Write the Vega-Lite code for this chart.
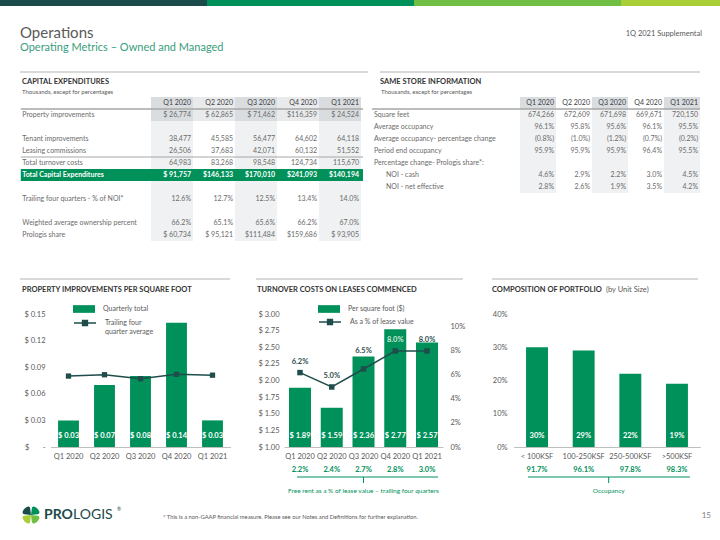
{
  "$schema": "https://vega.github.io/schema/vega-lite/v6.json",
  "width": 720,
  "height": 540,
  "autosize": {"type": "fit", "contains": "padding"},
  "padding": 0,
  "background": "#FFFFFF",
  "config": {"view": {"stroke": null}, "font": "Lato"},
  "datasets": {
    "capex": [
      {"row": "_hdr", "Q1 2020": "Q1 2020", "Q2 2020": "Q2 2020", "Q3 2020": "Q3 2020", "Q4 2020": "Q4 2020", "Q1 2021": "Q1 2021"},
      {"row": "Property improvements", "Q1 2020": "$ 26,774", "Q2 2020": "$ 62,865", "Q3 2020": "$ 71,462", "Q4 2020": "$116,359", "Q1 2021": "$ 24,524"},
      {"row": "_b1", "Q1 2020": "", "Q2 2020": "", "Q3 2020": "", "Q4 2020": "", "Q1 2021": ""},
      {"row": "Tenant improvements", "Q1 2020": "38,477", "Q2 2020": "45,585", "Q3 2020": "56,477", "Q4 2020": "64,602", "Q1 2021": "64,118"},
      {"row": "Leasing commissions", "Q1 2020": "26,506", "Q2 2020": "37,683", "Q3 2020": "42,071", "Q4 2020": "60,132", "Q1 2021": "51,552"},
      {"row": "Total turnover costs", "Q1 2020": "64,983", "Q2 2020": "83,268", "Q3 2020": "98,548", "Q4 2020": "124,734", "Q1 2021": "115,670"},
      {"row": "Total Capital Expenditures", "Q1 2020": "$ 91,757", "Q2 2020": "$146,133", "Q3 2020": "$170,010", "Q4 2020": "$241,093", "Q1 2021": "$140,194"},
      {"row": "_b2", "Q1 2020": "", "Q2 2020": "", "Q3 2020": "", "Q4 2020": "", "Q1 2021": ""},
      {"row": "Trailing four quarters - % of NOI*", "Q1 2020": "12.6%", "Q2 2020": "12.7%", "Q3 2020": "12.5%", "Q4 2020": "13.4%", "Q1 2021": "14.0%"},
      {"row": "_b3", "Q1 2020": "", "Q2 2020": "", "Q3 2020": "", "Q4 2020": "", "Q1 2021": ""},
      {"row": "Weighted average ownership percent", "Q1 2020": "66.2%", "Q2 2020": "65.1%", "Q3 2020": "65.6%", "Q4 2020": "66.2%", "Q1 2021": "67.0%"},
      {"row": "Prologis share", "Q1 2020": "$ 60,734", "Q2 2020": "$ 95,121", "Q3 2020": "$111,484", "Q4 2020": "$159,686", "Q1 2021": "$ 93,905"}
    ],
    "sameStore": [
      {"row": "_hdr", "Q1 2020": "Q1 2020", "Q2 2020": "Q2 2020", "Q3 2020": "Q3 2020", "Q4 2020": "Q4 2020", "Q1 2021": "Q1 2021"},
      {"row": "Square feet", "Q1 2020": "674,266", "Q2 2020": "672,609", "Q3 2020": "671,698", "Q4 2020": "669,671", "Q1 2021": "720,150"},
      {"row": "Average occupancy", "Q1 2020": "96.1%", "Q2 2020": "95.8%", "Q3 2020": "95.6%", "Q4 2020": "96.1%", "Q1 2021": "95.5%"},
      {"row": "Average occupancy- percentage change", "Q1 2020": "(0.8%)", "Q2 2020": "(1.0%)", "Q3 2020": "(1.2%)", "Q4 2020": "(0.7%)", "Q1 2021": "(0.2%)"},
      {"row": "Period end occupancy", "Q1 2020": "95.9%", "Q2 2020": "95.9%", "Q3 2020": "95.9%", "Q4 2020": "96.4%", "Q1 2021": "95.5%"},
      {"row": "Percentage change- Prologis share*:", "Q1 2020": "", "Q2 2020": "", "Q3 2020": "", "Q4 2020": "", "Q1 2021": ""},
      {"row": "NOI - cash", "Q1 2020": "4.6%", "Q2 2020": "2.9%", "Q3 2020": "2.2%", "Q4 2020": "3.0%", "Q1 2021": "4.5%"},
      {"row": "NOI - net effective", "Q1 2020": "2.8%", "Q2 2020": "2.6%", "Q3 2020": "1.9%", "Q4 2020": "3.5%", "Q1 2021": "4.2%"}
    ],
    "propImprovements": [
      {"q": "Q1 2020", "total": 0.03, "avg": 0.080},
      {"q": "Q2 2020", "total": 0.07, "avg": 0.0815},
      {"q": "Q3 2020", "total": 0.08, "avg": 0.077},
      {"q": "Q4 2020", "total": 0.14, "avg": 0.082},
      {"q": "Q1 2021", "total": 0.03, "avg": 0.081}
    ],
    "turnover": [
      {"q": "Q1 2020", "psf": 1.89, "pct": 0.062, "freeRent": 0.022},
      {"q": "Q2 2020", "psf": 1.59, "pct": 0.050, "freeRent": 0.024},
      {"q": "Q3 2020", "psf": 2.36, "pct": 0.065, "freeRent": 0.027},
      {"q": "Q4 2020", "psf": 2.77, "pct": 0.080, "freeRent": 0.028},
      {"q": "Q1 2021", "psf": 2.57, "pct": 0.080, "freeRent": 0.030}
    ],
    "portfolio": [
      {"size": "< 100KSF", "share": 0.30, "occupancy": 0.917},
      {"size": "100-250KSF", "share": 0.29, "occupancy": 0.961},
      {"size": "250-500KSF", "share": 0.22, "occupancy": 0.978},
      {"size": ">500KSF", "share": 0.19, "occupancy": 0.983}
    ],
    "logo": [
      {"part": "a", "w": 1},
      {"part": "b", "w": 1},
      {"part": "c", "w": 1},
      {"part": "d", "w": 1}
    ]
  },
  "layer": [
    {
      "data": {"values": [{}]},
      "layer": [
        {"mark": {"type": "rect", "fill": "#1B4A4A"}, "encoding": {"x": {"datum": 0, "type": "quantitative", "scale": {"domain": [0, 720], "range": [0, 720], "nice": false, "zero": false}, "axis": null}, "x2": {"datum": 207}, "y": {"datum": 0, "type": "quantitative", "scale": {"domain": [0, 540], "range": [0, 540], "nice": false, "zero": false}, "axis": null}, "y2": {"datum": 6}}},
        {"mark": {"type": "rect", "fill": "#00915A"}, "encoding": {"x": {"datum": 207, "type": "quantitative", "scale": {"domain": [0, 720], "range": [0, 720], "nice": false, "zero": false}, "axis": null}, "x2": {"datum": 414}, "y": {"datum": 0, "type": "quantitative", "scale": {"domain": [0, 540], "range": [0, 540], "nice": false, "zero": false}, "axis": null}, "y2": {"datum": 6}}},
        {"mark": {"type": "rect", "fill": "#70BF44"}, "encoding": {"x": {"datum": 414, "type": "quantitative", "scale": {"domain": [0, 720], "range": [0, 720], "nice": false, "zero": false}, "axis": null}, "x2": {"datum": 621}, "y": {"datum": 0, "type": "quantitative", "scale": {"domain": [0, 540], "range": [0, 540], "nice": false, "zero": false}, "axis": null}, "y2": {"datum": 6}}},
        {"mark": {"type": "rect", "fill": "#A8CE38"}, "encoding": {"x": {"datum": 621, "type": "quantitative", "scale": {"domain": [0, 720], "range": [0, 720], "nice": false, "zero": false}, "axis": null}, "x2": {"datum": 720}, "y": {"datum": 0, "type": "quantitative", "scale": {"domain": [0, 540], "range": [0, 540], "nice": false, "zero": false}, "axis": null}, "y2": {"datum": 6}}},
        {"mark": {"type": "text", "text": "Operations", "align": "left", "baseline": "middle", "fontSize": 15, "fill": "#595959"}, "encoding": {"x": {"datum": 20, "type": "quantitative", "scale": {"domain": [0, 720], "range": [0, 720], "nice": false, "zero": false}, "axis": null}, "y": {"datum": 33, "type": "quantitative", "scale": {"domain": [0, 540], "range": [0, 540], "nice": false, "zero": false}, "axis": null}}},
        {"mark": {"type": "text", "text": "Operating Metrics – Owned and Managed", "align": "left", "baseline": "middle", "fontSize": 11, "fill": "#3A9D7D"}, "encoding": {"x": {"datum": 20, "type": "quantitative", "scale": {"domain": [0, 720], "range": [0, 720], "nice": false, "zero": false}, "axis": null}, "y": {"datum": 48, "type": "quantitative", "scale": {"domain": [0, 540], "range": [0, 540], "nice": false, "zero": false}, "axis": null}}},
        {"mark": {"type": "text", "text": "1Q 2021 Supplemental", "align": "right", "baseline": "middle", "fontSize": 7.5, "fill": "#595959"}, "encoding": {"x": {"datum": 702, "type": "quantitative", "scale": {"domain": [0, 720], "range": [0, 720], "nice": false, "zero": false}, "axis": null}, "y": {"datum": 34, "type": "quantitative", "scale": {"domain": [0, 540], "range": [0, 540], "nice": false, "zero": false}, "axis": null}}},
        {"mark": {"type": "rule", "stroke": "#D9D9D9", "strokeWidth": 2}, "encoding": {"x": {"datum": 20, "type": "quantitative", "scale": {"domain": [0, 720], "range": [0, 720], "nice": false, "zero": false}, "axis": null}, "x2": {"datum": 368}, "y": {"datum": 72, "type": "quantitative", "scale": {"domain": [0, 540], "range": [0, 540], "nice": false, "zero": false}, "axis": null}}},
        {"mark": {"type": "rule", "stroke": "#D9D9D9", "strokeWidth": 2}, "encoding": {"x": {"datum": 380, "type": "quantitative", "scale": {"domain": [0, 720], "range": [0, 720], "nice": false, "zero": false}, "axis": null}, "x2": {"datum": 700}, "y": {"datum": 72, "type": "quantitative", "scale": {"domain": [0, 540], "range": [0, 540], "nice": false, "zero": false}, "axis": null}}},
        {"mark": {"type": "rule", "stroke": "#D9D9D9", "strokeWidth": 2}, "encoding": {"x": {"datum": 20, "type": "quantitative", "scale": {"domain": [0, 720], "range": [0, 720], "nice": false, "zero": false}, "axis": null}, "x2": {"datum": 230}, "y": {"datum": 279, "type": "quantitative", "scale": {"domain": [0, 540], "range": [0, 540], "nice": false, "zero": false}, "axis": null}}},
        {"mark": {"type": "rule", "stroke": "#D9D9D9", "strokeWidth": 2}, "encoding": {"x": {"datum": 256, "type": "quantitative", "scale": {"domain": [0, 720], "range": [0, 720], "nice": false, "zero": false}, "axis": null}, "x2": {"datum": 463}, "y": {"datum": 279, "type": "quantitative", "scale": {"domain": [0, 540], "range": [0, 540], "nice": false, "zero": false}, "axis": null}}},
        {"mark": {"type": "rule", "stroke": "#D9D9D9", "strokeWidth": 2}, "encoding": {"x": {"datum": 492, "type": "quantitative", "scale": {"domain": [0, 720], "range": [0, 720], "nice": false, "zero": false}, "axis": null}, "x2": {"datum": 698}, "y": {"datum": 279, "type": "quantitative", "scale": {"domain": [0, 540], "range": [0, 540], "nice": false, "zero": false}, "axis": null}}},
        {"mark": {"type": "text", "text": "CAPITAL EXPENDITURES", "align": "left", "baseline": "middle", "fontSize": 7.5, "fontWeight": "bold", "fill": "#333333"}, "encoding": {"x": {"datum": 22, "type": "quantitative", "scale": {"domain": [0, 720], "range": [0, 720], "nice": false, "zero": false}, "axis": null}, "y": {"datum": 82, "type": "quantitative", "scale": {"domain": [0, 540], "range": [0, 540], "nice": false, "zero": false}, "axis": null}}},
        {"mark": {"type": "text", "text": "Thousands, except for percentages", "align": "left", "baseline": "middle", "fontSize": 6, "fill": "#595959"}, "encoding": {"x": {"datum": 22, "type": "quantitative", "scale": {"domain": [0, 720], "range": [0, 720], "nice": false, "zero": false}, "axis": null}, "y": {"datum": 92, "type": "quantitative", "scale": {"domain": [0, 540], "range": [0, 540], "nice": false, "zero": false}, "axis": null}}},
        {"mark": {"type": "text", "text": "SAME STORE INFORMATION", "align": "left", "baseline": "middle", "fontSize": 7.5, "fontWeight": "bold", "fill": "#333333"}, "encoding": {"x": {"datum": 380, "type": "quantitative", "scale": {"domain": [0, 720], "range": [0, 720], "nice": false, "zero": false}, "axis": null}, "y": {"datum": 82, "type": "quantitative", "scale": {"domain": [0, 540], "range": [0, 540], "nice": false, "zero": false}, "axis": null}}},
        {"mark": {"type": "text", "text": "Thousands, except for percentages", "align": "left", "baseline": "middle", "fontSize": 6, "fill": "#595959"}, "encoding": {"x": {"datum": 381, "type": "quantitative", "scale": {"domain": [0, 720], "range": [0, 720], "nice": false, "zero": false}, "axis": null}, "y": {"datum": 92, "type": "quantitative", "scale": {"domain": [0, 540], "range": [0, 540], "nice": false, "zero": false}, "axis": null}}},
        {"mark": {"type": "text", "text": "PROPERTY IMPROVEMENTS PER SQUARE FOOT", "align": "left", "baseline": "middle", "fontSize": 7.5, "fontWeight": "bold", "fill": "#333333"}, "encoding": {"x": {"datum": 22, "type": "quantitative", "scale": {"domain": [0, 720], "range": [0, 720], "nice": false, "zero": false}, "axis": null}, "y": {"datum": 290, "type": "quantitative", "scale": {"domain": [0, 540], "range": [0, 540], "nice": false, "zero": false}, "axis": null}}},
        {"mark": {"type": "text", "text": "TURNOVER COSTS ON LEASES COMMENCED", "align": "left", "baseline": "middle", "fontSize": 7.5, "fontWeight": "bold", "fill": "#333333"}, "encoding": {"x": {"datum": 257, "type": "quantitative", "scale": {"domain": [0, 720], "range": [0, 720], "nice": false, "zero": false}, "axis": null}, "y": {"datum": 290, "type": "quantitative", "scale": {"domain": [0, 540], "range": [0, 540], "nice": false, "zero": false}, "axis": null}}},
        {"mark": {"type": "text", "text": "COMPOSITION OF PORTFOLIO", "align": "left", "baseline": "middle", "fontSize": 7.5, "fontWeight": "bold", "fill": "#333333"}, "encoding": {"x": {"datum": 492, "type": "quantitative", "scale": {"domain": [0, 720], "range": [0, 720], "nice": false, "zero": false}, "axis": null}, "y": {"datum": 290, "type": "quantitative", "scale": {"domain": [0, 540], "range": [0, 540], "nice": false, "zero": false}, "axis": null}}},
        {"mark": {"type": "text", "text": "(by Unit Size)", "align": "left", "baseline": "middle", "fontSize": 7.5, "fill": "#595959"}, "encoding": {"x": {"datum": 606, "type": "quantitative", "scale": {"domain": [0, 720], "range": [0, 720], "nice": false, "zero": false}, "axis": null}, "y": {"datum": 290, "type": "quantitative", "scale": {"domain": [0, 540], "range": [0, 540], "nice": false, "zero": false}, "axis": null}}},
        {"mark": {"type": "text", "text": "* This is a non-GAAP financial measure. Please see our Notes and Definitions for further explanation.", "align": "left", "baseline": "middle", "fontSize": 5.8, "fill": "#595959"}, "encoding": {"x": {"datum": 163, "type": "quantitative", "scale": {"domain": [0, 720], "range": [0, 720], "nice": false, "zero": false}, "axis": null}, "y": {"datum": 517, "type": "quantitative", "scale": {"domain": [0, 540], "range": [0, 540], "nice": false, "zero": false}, "axis": null}}},
        {"mark": {"type": "text", "text": "15", "align": "right", "baseline": "middle", "fontSize": 8, "fill": "#7F7F7F"}, "encoding": {"x": {"datum": 711, "type": "quantitative", "scale": {"domain": [0, 720], "range": [0, 720], "nice": false, "zero": false}, "axis": null}, "y": {"datum": 516, "type": "quantitative", "scale": {"domain": [0, 540], "range": [0, 540], "nice": false, "zero": false}, "axis": null}}},
        {"mark": {"type": "text", "text": "PRO", "align": "left", "baseline": "middle", "fontSize": 14, "fontWeight": "bold", "fill": "#1B4A4A"}, "encoding": {"x": {"datum": 44, "type": "quantitative", "scale": {"domain": [0, 720], "range": [0, 720], "nice": false, "zero": false}, "axis": null}, "y": {"datum": 515, "type": "quantitative", "scale": {"domain": [0, 540], "range": [0, 540], "nice": false, "zero": false}, "axis": null}}},
        {"mark": {"type": "text", "text": "LOGIS", "align": "left", "baseline": "middle", "fontSize": 14, "fill": "#1B4A4A"}, "encoding": {"x": {"datum": 73, "type": "quantitative", "scale": {"domain": [0, 720], "range": [0, 720], "nice": false, "zero": false}, "axis": null}, "y": {"datum": 515, "type": "quantitative", "scale": {"domain": [0, 540], "range": [0, 540], "nice": false, "zero": false}, "axis": null}}},
        {"mark": {"type": "text", "text": "®", "align": "left", "baseline": "middle", "fontSize": 5, "fill": "#1B4A4A"}, "encoding": {"x": {"datum": 117, "type": "quantitative", "scale": {"domain": [0, 720], "range": [0, 720], "nice": false, "zero": false}, "axis": null}, "y": {"datum": 509, "type": "quantitative", "scale": {"domain": [0, 540], "range": [0, 540], "nice": false, "zero": false}, "axis": null}}},
        {"data": {"name": "logo"}, "mark": {"type": "arc", "radius": 9, "innerRadius": 0, "padAngle": 0.25, "cornerRadius": 2}, "encoding": {"theta": {"field": "w", "type": "quantitative"}, "fill": {"field": "part", "type": "nominal", "sort": null, "scale": {"domain": ["a", "b", "c", "d"], "range": ["#00915A", "#70BF44", "#A8CE38", "#1B4A4A"]}, "legend": null}, "x": {"datum": 31, "type": "quantitative", "scale": {"domain": [0, 720], "range": [0, 720], "nice": false, "zero": false}, "axis": null}, "y": {"datum": 515, "type": "quantitative", "scale": {"domain": [0, 540], "range": [0, 540], "nice": false, "zero": false}, "axis": null}}}
      ]
    },
    {
      "data": {"name": "capex"},
      "transform": [{"fold": ["Q1 2020", "Q2 2020", "Q3 2020", "Q4 2020", "Q1 2021"], "as": ["q", "v"]}],
      "encoding": {
        "x": {"field": "q", "type": "nominal", "sort": null, "scale": {"domain": ["Q1 2020", "Q2 2020", "Q3 2020", "Q4 2020", "Q1 2021"], "range": [151, 361], "paddingInner": 0, "paddingOuter": 0}, "axis": null},
        "y": {"field": "row", "type": "nominal", "sort": null, "scale": {"domain": ["_hdr", "Property improvements", "_b1", "Tenant improvements", "Leasing commissions", "Total turnover costs", "Total Capital Expenditures", "_b2", "Trailing four quarters - % of NOI*", "_b3", "Weighted average ownership percent", "Prologis share"], "range": [97, 241], "paddingInner": 0, "paddingOuter": 0}, "axis": null}
      },
      "layer": [
        {"mark": {"type": "rect"}, "encoding": {"fill": {"condition": [
          {"test": "(datum.row=='_hdr'||datum.row=='Property improvements') && indexof(['Q1 2020','Q3 2020','Q1 2021'], datum.q) >= 0", "value": "#D9DDE0"},
          {"test": "datum.row=='_hdr'||datum.row=='Property improvements'", "value": "#E8EAEC"},
          {"test": "indexof(['Q1 2020','Q3 2020','Q1 2021'], datum.q) >= 0", "value": "#EFF1F2"}
        ], "value": "#FFFFFF"}}},
        {"transform": [{"filter": "datum.row=='Total Capital Expenditures' && datum.q=='Q1 2020'"}], "mark": {"type": "rect", "fill": "#00915A", "x2Offset": 2}, "encoding": {"x": {"datum": "Q1 2020", "bandPosition": -3.1}, "x2": {"datum": "Q1 2021", "bandPosition": 1}}},
        {"transform": [{"filter": "datum.row=='_hdr' && datum.q=='Q1 2020'"}], "mark": {"type": "rule", "stroke": "#A6A6A6", "strokeWidth": 1.5, "x2Offset": 2}, "encoding": {"x": {"datum": "Q1 2020", "bandPosition": -3.1}, "x2": {"datum": "Q1 2021", "bandPosition": 1}, "y": {"field": "row", "type": "nominal", "bandPosition": 1}}},
        {"transform": [{"filter": "datum.row=='Total turnover costs' && datum.q=='Q1 2020'"}], "mark": {"type": "rule", "stroke": "#A6A6A6", "strokeWidth": 1, "x2Offset": 2}, "encoding": {"x": {"datum": "Q1 2020", "bandPosition": -3.1}, "x2": {"datum": "Q1 2021", "bandPosition": 1}, "y": {"field": "row", "type": "nominal", "bandPosition": 0}}},
        {"transform": [{"filter": "datum.row!='Total Capital Expenditures'"}], "mark": {"type": "text", "align": "right", "baseline": "middle", "dx": -2, "fontSize": 7}, "encoding": {"x": {"field": "q", "type": "nominal", "bandPosition": 1}, "text": {"field": "v", "type": "nominal"}, "fill": {"condition": {"test": "datum.row=='_hdr'", "value": "#404040"}, "value": "#6B6B6B"}}},
        {"transform": [{"filter": "datum.row=='Total Capital Expenditures'"}], "mark": {"type": "text", "align": "right", "baseline": "middle", "dx": -2, "fontSize": 7, "fontWeight": "bold", "fill": "#FFFFFF"}, "encoding": {"x": {"field": "q", "type": "nominal", "bandPosition": 1}, "text": {"field": "v", "type": "nominal"}}},
        {"transform": [{"filter": "datum.q=='Q1 2020' && indexof(datum.row, '_') != 0 && datum.row!='Total Capital Expenditures'"}], "mark": {"type": "text", "align": "left", "baseline": "middle", "dx": 1.5, "fontSize": 7, "fill": "#6B6B6B"}, "encoding": {"x": {"datum": "Q1 2020", "bandPosition": -3.1}, "text": {"field": "row", "type": "nominal"}}},
        {"transform": [{"filter": "datum.q=='Q1 2020' && datum.row=='Total Capital Expenditures'"}], "mark": {"type": "text", "align": "left", "baseline": "middle", "dx": 1.5, "fontSize": 7, "fontWeight": "bold", "fill": "#FFFFFF"}, "encoding": {"x": {"datum": "Q1 2020", "bandPosition": -3.1}, "text": {"field": "row", "type": "nominal"}}}
      ]
    },
    {
      "data": {"name": "sameStore"},
      "transform": [{"fold": ["Q1 2020", "Q2 2020", "Q3 2020", "Q4 2020", "Q1 2021"], "as": ["q", "v"]}],
      "encoding": {
        "x": {"field": "q", "type": "nominal", "sort": null, "scale": {"domain": ["Q1 2020", "Q2 2020", "Q3 2020", "Q4 2020", "Q1 2021"], "range": [520, 700], "paddingInner": 0, "paddingOuter": 0}, "axis": null},
        "y": {"field": "row", "type": "nominal", "sort": null, "scale": {"domain": ["_hdr", "Square feet", "Average occupancy", "Average occupancy- percentage change", "Period end occupancy", "Percentage change- Prologis share*:", "NOI - cash", "NOI - net effective"], "range": [97, 193], "paddingInner": 0, "paddingOuter": 0}, "axis": null}
      },
      "layer": [
        {"mark": {"type": "rect"}, "encoding": {"fill": {"condition": [
          {"test": "datum.row=='_hdr' && indexof(['Q1 2020','Q3 2020','Q1 2021'], datum.q) >= 0", "value": "#D9DDE0"},
          {"test": "indexof(['Q1 2020','Q3 2020','Q1 2021'], datum.q) >= 0", "value": "#EFF1F2"}
        ], "value": "#FFFFFF"}}},
        {"transform": [{"filter": "datum.row=='_hdr' && datum.q=='Q1 2020'"}], "mark": {"type": "rule", "stroke": "#A6A6A6", "strokeWidth": 1.5}, "encoding": {"x": {"datum": "Q1 2020", "bandPosition": -4.111}, "x2": {"datum": "Q1 2021", "bandPosition": 1}, "y": {"field": "row", "type": "nominal", "bandPosition": 1}}},
        {"mark": {"type": "text", "align": "right", "baseline": "middle", "dx": -2, "fontSize": 7}, "encoding": {"x": {"field": "q", "type": "nominal", "bandPosition": 1}, "text": {"field": "v", "type": "nominal"}, "fill": {"condition": {"test": "datum.row=='_hdr'", "value": "#404040"}, "value": "#6B6B6B"}}},
        {"transform": [{"filter": "datum.q=='Q1 2020' && indexof(datum.row, '_') != 0 && indexof(datum.row, 'NOI') != 0"}], "mark": {"type": "text", "align": "left", "baseline": "middle", "dx": 2, "fontSize": 7, "fill": "#6B6B6B"}, "encoding": {"x": {"datum": "Q1 2020", "bandPosition": -4.111}, "text": {"field": "row", "type": "nominal"}}},
        {"transform": [{"filter": "datum.q=='Q1 2020' && indexof(datum.row, 'NOI') == 0"}], "mark": {"type": "text", "align": "left", "baseline": "middle", "dx": 14, "fontSize": 7, "fill": "#6B6B6B"}, "encoding": {"x": {"datum": "Q1 2020", "bandPosition": -4.111}, "text": {"field": "row", "type": "nominal"}}}
      ]
    },
    {
      "data": {"name": "propImprovements"},
      "encoding": {
        "x": {"field": "q", "type": "nominal", "sort": null, "scale": {"domain": ["Q1 2020", "Q2 2020", "Q3 2020", "Q4 2020", "Q1 2021"], "range": [50.5, 230.5], "paddingInner": 0.42, "paddingOuter": 0.21},
          "axis": {"orient": "bottom", "offset": -93, "title": null, "domain": true, "domainColor": "#BFBFBF", "domainWidth": 1, "ticks": false, "grid": false, "labelAngle": 0, "labelPadding": 5, "labelFontSize": 7.5, "labelColor": "#595959"}}
      },
      "layer": [
        {"mark": {"type": "bar"}, "encoding": {
          "y": {"field": "total", "type": "quantitative", "title": null, "scale": {"domain": [0, 0.15], "range": [447, 314], "nice": false},
            "axis": {"orient": "left", "offset": -48, "title": null, "domain": false, "ticks": false, "grid": false, "labelPadding": 3, "labelFontSize": 7.5, "labelColor": "#595959", "values": [0, 0.03, 0.06, 0.09, 0.12, 0.15], "labelExpr": "datum.value == 0 ? '$\u00a0\u00a0\u00a0\u00a0\u00a0\u00a0\u00a0-' : '$ ' + format(datum.value, '.2f')"}},
          "fill": {"datum": "Quarterly total", "type": "nominal", "scale": {"range": ["#00915A"]},
            "legend": {"orient": "none", "legendX": 73, "legendY": 298, "title": null, "symbolType": "M-1,-0.35H1V0.35H-1Z", "symbolSize": 484, "symbolStrokeWidth": 0, "labelFontSize": 7, "labelColor": "#595959", "labelOffset": 8}}
        }},
        {"mark": {"type": "line", "strokeWidth": 1.5}, "encoding": {
          "y": {"field": "avg", "type": "quantitative", "title": null},
          "stroke": {"datum": "Trailing four quarter average", "type": "nominal", "scale": {"range": ["#1E4D4B"]},
            "legend": {"orient": "none", "legendX": 73, "legendY": 311, "title": null, "symbolType": "M-1,0H1M-0.22,-0.22H0.22V0.22H-0.22Z", "symbolSize": 484, "symbolStrokeWidth": 1.5, "symbolFillColor": "#1E4D4B", "labelExpr": "['Trailing four', 'quarter average']", "labelFontSize": 7, "labelColor": "#595959", "labelOffset": 8}}
        }},
        {"mark": {"type": "square", "size": 28, "fill": "#1E4D4B", "opacity": 1}, "encoding": {"y": {"field": "avg", "type": "quantitative", "title": null}}},
        {"mark": {"type": "text", "baseline": "middle", "dy": -11, "fontSize": 7.5, "fontWeight": "bold", "fill": "#FFFFFF"}, "encoding": {"y": {"datum": 0}, "text": {"field": "total", "type": "quantitative", "format": "=$6.2f"}}}
      ]
    },
    {
      "data": {"name": "turnover"},
      "encoding": {
        "x": {"field": "q", "type": "nominal", "sort": null, "scale": {"domain": ["Q1 2020", "Q2 2020", "Q3 2020", "Q4 2020", "Q1 2021"], "range": [284.1, 442.9], "paddingInner": 0.307, "paddingOuter": 0.154},
          "axis": {"orient": "bottom", "offset": -93, "title": null, "domain": true, "domainColor": "#BFBFBF", "domainWidth": 1, "ticks": false, "grid": false, "labelAngle": 0, "labelPadding": 5, "labelFontSize": 7.5, "labelColor": "#595959"}}
      },
      "layer": [
        {
          "layer": [
            {"mark": {"type": "bar"}, "encoding": {
              "y": {"field": "psf", "type": "quantitative", "title": null, "scale": {"domain": [1, 3], "range": [447, 314], "nice": false, "zero": false},
                "axis": {"orient": "left", "offset": -282, "title": null, "domain": false, "ticks": false, "grid": false, "labelPadding": 3, "labelFontSize": 7.5, "labelColor": "#595959", "values": [1, 1.25, 1.5, 1.75, 2, 2.25, 2.5, 2.75, 3], "labelExpr": "'$ ' + format(datum.value, '.2f')"}},
              "y2": {"datum": 1},
              "fill": {"datum": "Per square foot ($)", "type": "nominal", "scale": {"range": ["#00915A"]},
                "legend": {"orient": "none", "legendX": 318, "legendY": 298, "title": null, "symbolType": "M-1,-0.35H1V0.35H-1Z", "symbolSize": 484, "symbolStrokeWidth": 0, "labelFontSize": 7, "labelColor": "#595959", "labelOffset": 8}}
            }},
            {"mark": {"type": "text", "baseline": "middle", "dy": -11, "fontSize": 7.5, "fontWeight": "bold", "fill": "#FFFFFF"}, "encoding": {"y": {"datum": 1}, "text": {"field": "psf", "type": "quantitative", "format": "=$6.2f"}}},
            {"mark": {"type": "text", "baseline": "middle", "dy": 23, "fontSize": 7.5, "fontWeight": "bold", "fill": "#00915A"}, "encoding": {"y": {"datum": 1}, "text": {"field": "freeRent", "type": "quantitative", "format": ".1%"}}},
            {"data": {"values": [{}]}, "mark": {"type": "rule", "stroke": "#00915A", "strokeWidth": 1, "yOffset": 30, "xOffset": -3, "x2Offset": 11}, "encoding": {"x": {"datum": "Q1 2020", "bandPosition": 0.5}, "x2": {"datum": "Q1 2021", "bandPosition": 0.5}, "y": {"datum": 1}}},
            {"data": {"values": [{}]}, "mark": {"type": "rule", "stroke": "#00915A", "strokeWidth": 1, "yOffset": 30, "y2Offset": 36}, "encoding": {"x": {"datum": "Q3 2020", "bandPosition": 0.5}, "y": {"datum": 1}, "y2": {"datum": 1}}},
            {"data": {"values": [{}]}, "mark": {"type": "text", "text": "Free rent as a % of lease value – trailing four quarters", "baseline": "middle", "dy": 44, "fontSize": 6.5, "fill": "#00915A"}, "encoding": {"x": {"datum": "Q3 2020", "bandPosition": 0.5}, "y": {"datum": 1}}}
          ]
        },
        {
          "layer": [
            {"mark": {"type": "line", "strokeWidth": 1.5}, "encoding": {
              "y": {"field": "pct", "type": "quantitative", "title": null, "scale": {"domain": [0, 0.1108], "range": [447, 314], "nice": false},
                "axis": {"orient": "right", "offset": -273, "title": null, "domain": false, "ticks": false, "grid": false, "labelPadding": 3, "labelFontSize": 7.5, "labelColor": "#595959", "values": [0, 0.02, 0.04, 0.06, 0.08, 0.1], "format": ".0%"}},
              "stroke": {"datum": "As a % of lease value", "type": "nominal", "scale": {"range": ["#1E4D4B"]},
                "legend": {"orient": "none", "legendX": 318, "legendY": 310, "title": null, "symbolType": "M-1,0H1M-0.22,-0.22H0.22V0.22H-0.22Z", "symbolSize": 484, "symbolStrokeWidth": 1.5, "symbolFillColor": "#1E4D4B", "labelFontSize": 7, "labelColor": "#595959", "labelOffset": 8}}
            }},
            {"mark": {"type": "square", "size": 30, "fill": "#1E4D4B", "opacity": 1}, "encoding": {"y": {"field": "pct", "type": "quantitative", "title": null}}},
            {"transform": [{"filter": "datum.q != 'Q3 2020'"}], "mark": {"type": "text", "baseline": "middle", "dy": -11, "fontSize": 7.5, "fontWeight": "bold"}, "encoding": {"y": {"field": "pct", "type": "quantitative", "title": null}, "text": {"field": "pct", "type": "quantitative", "format": ".1%"}, "fill": {"condition": {"test": "datum.q=='Q4 2020'", "value": "#CDE6D8"}, "value": "#2E4F4C"}}},
            {"transform": [{"filter": "datum.q == 'Q3 2020'"}], "mark": {"type": "text", "baseline": "middle", "dy": -18, "fontSize": 7.5, "fontWeight": "bold", "fill": "#2E4F4C"}, "encoding": {"y": {"field": "pct", "type": "quantitative", "title": null}, "text": {"field": "pct", "type": "quantitative", "format": ".1%"}}}
          ]
        }
      ],
      "resolve": {"scale": {"y": "independent"}, "axis": {"y": "independent"}}
    },
    {
      "data": {"name": "portfolio"},
      "encoding": {
        "x": {"field": "size", "type": "nominal", "sort": null, "scale": {"domain": ["< 100KSF", "100-250KSF", "250-500KSF", ">500KSF"], "range": [513.7, 700.3], "paddingInner": 0.53, "paddingOuter": 0.265},
          "axis": {"orient": "bottom", "offset": -93, "title": null, "domain": true, "domainColor": "#BFBFBF", "domainWidth": 1, "ticks": false, "grid": false, "labelAngle": 0, "labelPadding": 5, "labelFontSize": 7.5, "labelColor": "#595959"}}
      },
      "layer": [
        {"mark": {"type": "bar", "fill": "#00915A"}, "encoding": {
          "y": {"field": "share", "type": "quantitative", "title": null, "scale": {"domain": [0, 0.4], "range": [447, 314], "nice": false},
            "axis": {"orient": "left", "offset": -510, "title": null, "domain": false, "ticks": false, "grid": false, "labelPadding": 3, "labelFontSize": 7.5, "labelColor": "#595959", "values": [0, 0.1, 0.2, 0.3, 0.4], "format": ".0%"}}
        }},
        {"mark": {"type": "text", "baseline": "middle", "dy": -11, "fontSize": 7.5, "fontWeight": "bold", "fill": "#FFFFFF"}, "encoding": {"y": {"datum": 0}, "text": {"field": "share", "type": "quantitative", "format": ".0%"}}},
        {"mark": {"type": "text", "baseline": "middle", "dy": 23, "fontSize": 7.5, "fontWeight": "bold", "fill": "#00915A"}, "encoding": {"y": {"datum": 0}, "text": {"field": "occupancy", "type": "quantitative", "format": ".1%"}}},
        {"data": {"values": [{}]}, "mark": {"type": "rule", "stroke": "#00915A", "strokeWidth": 1, "yOffset": 30, "xOffset": -9, "x2Offset": 13}, "encoding": {"x": {"datum": "< 100KSF", "bandPosition": 0.5}, "x2": {"datum": ">500KSF", "bandPosition": 0.5}, "y": {"datum": 0}}},
        {"data": {"values": [{}]}, "mark": {"type": "rule", "stroke": "#00915A", "strokeWidth": 1, "yOffset": 30, "y2Offset": 36, "xOffset": 25}, "encoding": {"x": {"datum": "100-250KSF", "bandPosition": 0.5}, "y": {"datum": 0}, "y2": {"datum": 0}}},
        {"data": {"values": [{}]}, "mark": {"type": "text", "text": "Occupancy", "baseline": "middle", "dx": 25, "dy": 44, "fontSize": 6.5, "fill": "#00915A"}, "encoding": {"x": {"datum": "100-250KSF", "bandPosition": 0.5}, "y": {"datum": 0}}}
      ]
    }
  ],
  "resolve": {
    "scale": {"x": "independent", "y": "independent", "fill": "independent", "stroke": "independent", "color": "independent", "theta": "independent"},
    "axis": {"x": "independent", "y": "independent"},
    "legend": {"fill": "independent", "stroke": "independent", "color": "independent"}
  }
}
